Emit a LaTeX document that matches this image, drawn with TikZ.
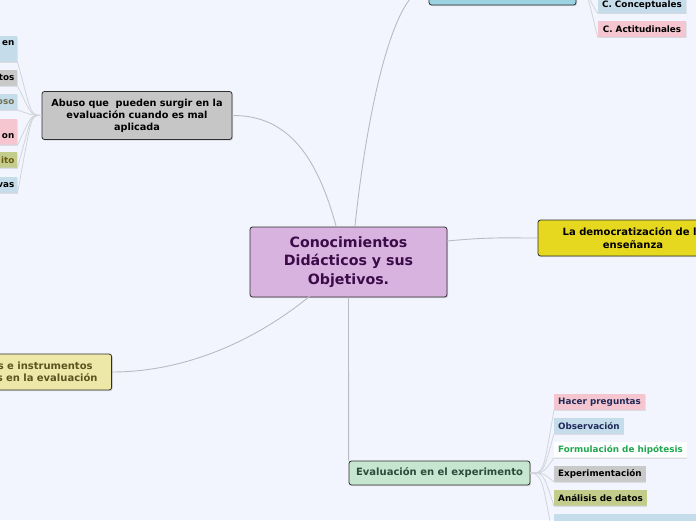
\documentclass[tikz,border=0pt]{standalone}
\usepackage{fontspec}
\setmainfont{DejaVu Sans}
\usetikzlibrary{shadows}
\definecolor{bg}{HTML}{F2F5FD}
\definecolor{cline}{HTML}{B9BBC4}
\definecolor{kline}{HTML}{D2D4DC}
\definecolor{bord}{HTML}{2E2E2E}
\definecolor{purp}{HTML}{D9B3E0}
\definecolor{purptxt}{HTML}{3A0B48}
\definecolor{cyanbox}{HTML}{9BD3E0}
\definecolor{graybox}{HTML}{C6C6C6}
\definecolor{yelbox}{HTML}{E6D81E}
\definecolor{khaki}{HTML}{EDE8A8}
\definecolor{khakitxt}{HTML}{5C5420}
\definecolor{greenbox}{HTML}{C6E6CF}
\definecolor{greentxt}{HTML}{2E4A3A}
\definecolor{kblue}{HTML}{C5DCEA}
\definecolor{kpink}{HTML}{F5C6CF}
\definecolor{kgray}{HTML}{C9C9C9}
\definecolor{kolive}{HTML}{C3CC8A}
\definecolor{navy}{HTML}{1F2A5A}
\definecolor{hgreen}{HTML}{1FA84F}
\definecolor{olivetxt}{HTML}{6B5A10}
\definecolor{greytxt}{HTML}{707055}
\tikzset{
  mainbox/.style={draw=bord, line width=0.8pt, rounded corners=2.5pt, align=center,
    drop shadow={shadow xshift=1pt, shadow yshift=-1.2pt, opacity=0.25}},
  kid/.style={inner sep=0pt, minimum height=16pt, font=\fontsize{8.8}{11}\selectfont\bfseries,
    drop shadow={shadow xshift=0.6pt, shadow yshift=-0.8pt, opacity=0.15}},
  link/.style={draw=cline, line width=0.9pt},
  klink/.style={draw=kline, line width=0.8pt},
}
\begin{document}
\begin{tikzpicture}[x=1pt,y=-1pt]
\useasboundingbox (0,0) rectangle (696,520);
\clip (0,0) rectangle (696,520);
\fill[bg] (0,0) rectangle (696,520);

\coordinate (cTop) at (355,226);
\coordinate (cLeft) at (336,226);
\coordinate (cBL) at (310,296);
\coordinate (cRight) at (447,241);

% ---- main nodes ----
\node[mainbox, fill=purp, text=purptxt, minimum width=197pt, minimum height=70pt,
  font=\fontsize{14.2}{18.5}\selectfont\bfseries] (C) at (348.5,262)
  {Conocimientos\\Didácticos y sus\\Objetivos.};

\node[mainbox, fill=cyanbox, minimum width=147pt, minimum height=36pt] (T) at (502.5,-13) {};

\node[mainbox, fill=graybox, minimum width=190pt, minimum height=48pt,
  font=\fontsize{9.7}{12}\selectfont\bfseries] (L) at (137,115.5)
  {Abuso que \ pueden surgir en la\\evaluación cuando es mal\\aplicada};

\node[mainbox, fill=yelbox, minimum width=190pt, minimum height=36pt,
  font=\fontsize{10}{12.5}\selectfont\bfseries] (R) at (633,238)
  {La democratización de la\\enseñanza};

\node[mainbox, fill=khaki, text=khakitxt, minimum height=36pt, inner xsep=0pt,
  text width=200pt, align=right, anchor=east,
  font=\fontsize{10}{12.5}\selectfont\bfseries] (BL) at (112,372)
  {s e instrumentos\kern19pt\\s en la evaluación\kern14pt};

\node[mainbox, fill=greenbox, text=greentxt, minimum width=181pt, minimum height=24pt,
  font=\fontsize{10}{12}\selectfont\bfseries] (B) at (439.5,473)
  {Evaluación en el experimento};

% ---- top children ----
\node[kid, fill=kblue, minimum width=88pt] (t1) at (642,5) {C. Conceptuales};
\node[kid, fill=kpink, minimum width=88pt] (t2) at (642,29) {C. Actitudinales};

% ---- left children ----
\node[kid, fill=kblue, anchor=south east, text width=60pt, align=right, inner xsep=3pt,
  minimum height=26pt, inner ysep=2pt, font=\fontsize{8.8}{12}\selectfont\bfseries] (l1) at (17.5,62)
  {en\\\mbox{}};
\node[kid, fill=kgray, anchor=south east, text width=60pt, align=right, inner xsep=3pt] (l2) at (17.5,86) {tos};
\node[kid, fill=kblue, text=greytxt, anchor=south east, text width=60pt, align=right, inner xsep=3pt] (l3) at (17.5,110) {oso};
\node[kid, fill=kpink, anchor=south east, text width=60pt, align=right, inner xsep=3pt,
  minimum height=26pt, inner ysep=2pt, font=\fontsize{8.8}{13}\selectfont\bfseries] (l4) at (17.5,145)
  {\mbox{}\\on};
\node[kid, fill=kolive, text=olivetxt, anchor=south east, text width=60pt, align=right, inner xsep=3pt] (l5) at (17.5,168) {ito};
\node[kid, fill=kblue, anchor=south east, text width=60pt, align=right, inner xsep=3pt] (l6) at (17.5,193) {vas};

% ---- bottom children ----
\node[kid, fill=kpink, text=navy, anchor=south west, inner xsep=4pt] (b1) at (554,410) {Hacer preguntas};
\node[kid, fill=kblue, text=navy, anchor=south west, inner xsep=4pt] (b2) at (554,434) {Observación};
\node[kid, fill=white, text=hgreen, anchor=south west, inner xsep=4pt] (b3) at (554,458) {Formulación de hipótesis};
\node[kid, fill=kgray, text=black, anchor=south west, inner xsep=4pt] (b4) at (554,482) {Experimentación};
\node[kid, fill=kolive, text=black, anchor=south west, inner xsep=4pt] (b5) at (554,506) {Análisis de datos};
\node[kid, fill=kblue, anchor=north west, minimum width=150pt, minimum height=16pt] (b6) at (554,514) {};

% ---- main connectors ----
\path[link] (cTop) .. controls (366,120) and (392,-13) .. (T.west);
\path[link] (cLeft) .. controls (318,160) and (290,115) .. (L.east);
\path[link] (cRight) .. controls (490,237) and (500,238) .. (R.west);
\path[link] (cBL) .. controls (250,345) and (180,372) .. (BL.east);
\path[link] (C.south) -- (B.north west);

% ---- child connectors ----
\foreach \k in {t1,t2}{
  \path[klink] (T.east) .. controls (588,-13) and (588,0) .. (\k.south west) -- (\k.south east);
}
\foreach \k in {l1,l2,l3,l4,l5,l6}{
  \path[klink] (L.west) .. controls (30,115) and (32,115) .. (\k.south east) -- (\k.south west);
}
\foreach \k in {b1,b2,b3,b4,b5}{
  \path[klink] (B.east) .. controls (544,473) and (543,473) .. (\k.south west) -- (\k.south east);
}
\coordinate (b6end) at (554,540);
\path[klink] (B.east) .. controls (544,473) and (543,490) .. (b6end);
\end{tikzpicture}
\end{document}
